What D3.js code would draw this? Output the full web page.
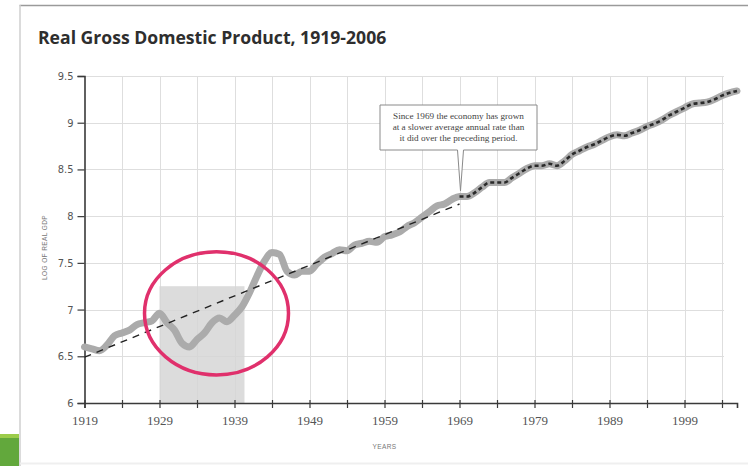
<!DOCTYPE html>
<html>
<head>
<meta charset="utf-8">
<script src="https://cdn.jsdelivr.net/npm/d3@7"></script>
<style>
  html, body { margin: 0; padding: 0; background: #fff; }
  svg { display: block; }
</style>
</head>
<body>
<svg id="chart" width="748" height="466"></svg>
<script>
// Log of real GDP, annual, 1919-2006
const years = d3.range(1919, 2007);
const logGdp = [
  6.60, 6.58, 6.56, 6.62, 6.72, 6.75, 6.78, 6.84, 6.86, 6.88, // 1919-1928
  6.96, 6.86, 6.78, 6.64, 6.60, 6.68, 6.75, 6.86, 6.91, 6.87, // 1929-1938
  6.94, 7.03, 7.18, 7.36, 7.52, 7.61, 7.59, 7.41, 7.37, 7.41, // 1939-1948
  7.41, 7.49, 7.56, 7.60, 7.64, 7.63, 7.69, 7.71, 7.73, 7.72, // 1949-1958
  7.78, 7.80, 7.83, 7.89, 7.93, 7.99, 8.05, 8.11, 8.13, 8.18, // 1959-1968
  8.21, 8.21, 8.25, 8.31, 8.36, 8.36, 8.36, 8.41, 8.46, 8.51, // 1969-1978
  8.54, 8.54, 8.56, 8.54, 8.59, 8.66, 8.70, 8.74, 8.77, 8.81, // 1979-1988
  8.85, 8.87, 8.86, 8.89, 8.92, 8.96, 8.99, 9.03, 9.08, 9.12, // 1989-1998
  9.16, 9.20, 9.21, 9.22, 9.25, 9.29, 9.32, 9.34              // 1999-2006
];

// Pre-1969 trend line endpoints
const trendYears = [1919, 1969];
const trendValues = [6.49, 8.13];

// Axis ticks
const yTicks = [6, 6.5, 7, 7.5, 8, 8.5, 9, 9.5];
const xLabelYears = [1919, 1929, 1939, 1949, 1959, 1969, 1979, 1989, 1999];
const xTickYears = d3.range(1919, 2005, 5);

// Great Depression highlight
const shadeYears = [1929, 1940.33];
const shadeTop = 7.25;
const circleCenter = [1936.6, 6.96];
const circleRadius = [9.6, 0.66];

const titleText = "Real Gross Domestic Product, 1919-2006";
const yAxisTitle = "LOG OF REAL GDP";
const xAxisTitle = "YEARS";
const noteLines = [
  "Since 1969 the economy has grown",
  "at a slower average annual rate than",
  "it did over the preceding period."
];
const breakYear = 1969;

const svg = d3.select("#chart");
const x = d3.scaleLinear().domain([1919, 2006]).range([84.5, 737]);
const y = d3.scaleLinear().domain([6, 9.5]).range([403, 76]);
const gridRight = x(2004);

// Page frame and corner accent
svg.append("rect").attr("x", 0).attr("y", 0).attr("width", 748).attr("height", 466).attr("fill", "#fff");
svg.append("line").attr("x1", 19.5).attr("x2", 748).attr("y1", 5.5).attr("y2", 5.5)
  .attr("stroke", "#9a9a9a").attr("stroke-width", 1.5);
svg.append("line").attr("x1", 20).attr("x2", 20).attr("y1", 5).attr("y2", 466)
  .attr("stroke", "#cfcfcf").attr("stroke-width", 1.5);
svg.append("line").attr("x1", 20).attr("x2", 748).attr("y1", 463.5).attr("y2", 463.5)
  .attr("stroke", "#efefef").attr("stroke-width", 2);
svg.append("rect").attr("x", 0).attr("y", 434).attr("width", 19).attr("height", 32).attr("fill", "#62a83c");
svg.append("rect").attr("x", 0).attr("y", 434).attr("width", 19).attr("height", 4).attr("fill", "#9ccc4a");

// Title
svg.append("text").attr("x", 38).attr("y", 44)
  .attr("font-family", "'Open Sans', 'Noto Sans', sans-serif")
  .attr("font-weight", 700).attr("font-size", 17.6).attr("fill", "#2e2e2e")
  .text(titleText);

// Grid
const grid = svg.append("g").attr("stroke", "#dedede").attr("stroke-width", 1);
grid.selectAll("line.h").data(yTicks.slice(1)).join("line").attr("class", "h")
  .attr("x1", x(1919)).attr("x2", gridRight + 2)
  .attr("y1", d => Math.round(y(d)) + 0.5).attr("y2", d => Math.round(y(d)) + 0.5);
grid.selectAll("line.v").data(xTickYears.slice(1)).join("line").attr("class", "v")
  .attr("x1", d => Math.round(x(d)) + 0.5).attr("x2", d => Math.round(x(d)) + 0.5)
  .attr("y1", y(9.5)).attr("y2", y(6));

// Depression shading
svg.append("rect")
  .attr("x", x(shadeYears[0])).attr("width", x(shadeYears[1]) - x(shadeYears[0]))
  .attr("y", y(shadeTop)).attr("height", y(6) - y(shadeTop))
  .attr("fill", "#d6d6d6").attr("opacity", 0.85);

// Axes
const yAxis = d3.axisLeft(y).tickValues(yTicks).tickSize(7).tickPadding(4)
  .tickFormat(d => d3.format("")(d));
const gy = svg.append("g").attr("transform", `translate(${x(1919)},0)`).call(yAxis);
gy.select(".domain").attr("stroke", "#3a3a3a").attr("stroke-width", 1.6);
gy.selectAll(".tick line").attr("stroke", "#3a3a3a").attr("stroke-width", 1.2);
gy.selectAll(".tick text").attr("font-family", "'Liberation Sans Narrow', 'DejaVu Sans Condensed', 'Liberation Sans', sans-serif")
  .attr("font-size", 11).attr("fill", "#555");

const xAxis = d3.axisBottom(x).tickValues(xTickYears).tickSize(5).tickPadding(8)
  .tickFormat(d => xLabelYears.includes(d) ? String(d) : "");
const gx = svg.append("g").attr("transform", `translate(0,${y(6)})`).call(xAxis);
gx.select(".domain").attr("stroke", "#3a3a3a").attr("stroke-width", 1.6);
gx.selectAll(".tick line").attr("stroke", "#3a3a3a").attr("stroke-width", 1.2).attr("y1", -3);
gx.selectAll(".tick text").attr("font-family", "'Liberation Serif', 'DejaVu Serif', serif")
  .attr("font-size", 13).attr("fill", "#555");

// Axis titles
svg.append("text").attr("transform", `translate(47,${(y(6) + y(9.5)) / 2 + 8}) rotate(-90)`)
  .attr("text-anchor", "middle").attr("font-family", "'Liberation Sans', sans-serif")
  .attr("font-size", 6.5).attr("fill", "#777").attr("letter-spacing", 0.4).text(yAxisTitle);
svg.append("text").attr("x", x(1959)).attr("y", 449).attr("text-anchor", "middle")
  .attr("font-family", "'Liberation Sans', sans-serif")
  .attr("font-size", 6.5).attr("fill", "#777").attr("letter-spacing", 0.4).text(xAxisTitle);

// GDP series
const series = years.map((yr, i) => ({ yr, v: logGdp[i] }));
const line = d3.line().x(d => x(d.yr)).y(d => y(d.v)).curve(d3.curveMonotoneX);
svg.append("path").datum(series).attr("d", line)
  .attr("fill", "none").attr("stroke", "#ababab").attr("stroke-width", 7)
  .attr("stroke-linejoin", "round").attr("stroke-linecap", "round");

// Trend before 1969 (dashed)
svg.append("path").datum(trendYears.map((yr, i) => ({ yr, v: trendValues[i] })))
  .attr("d", d3.line().x(d => x(d.yr)).y(d => y(d.v)))
  .attr("fill", "none").attr("stroke", "#222").attr("stroke-width", 1.4)
  .attr("stroke-dasharray", "7,6");

// Post-1969 path marked with short dark dashes on top of the series
svg.append("path").datum(series.filter(d => d.yr >= breakYear)).attr("d", line)
  .attr("fill", "none").attr("stroke", "#2a2a2a").attr("stroke-width", 2.6)
  .attr("stroke-dasharray", "4,3");

// Callout note
const boxX = 380, boxY = 105, boxW = 157, boxH = 45;
const tipX = x(breakYear) + 1, tipY = y(8.27);
const note = svg.append("g");
note.append("path")
  .attr("d", `M${boxX},${boxY} H${boxX + boxW} V${boxY + boxH} H${tipX + 3} L${tipX},${tipY} L${tipX - 3},${boxY + boxH} H${boxX} Z`)
  .attr("fill", "#fff").attr("stroke", "#8a8a8a").attr("stroke-width", 1);
note.selectAll("text").data(noteLines).join("text")
  .attr("x", boxX + boxW / 2).attr("y", (d, i) => boxY + 14 + i * 11)
  .attr("text-anchor", "middle").attr("font-family", "'Liberation Serif', serif")
  .attr("font-size", 9.2).attr("fill", "#444").text(d => d);

// Depression ring
svg.append("ellipse")
  .attr("cx", x(circleCenter[0])).attr("cy", y(circleCenter[1]))
  .attr("rx", x(circleCenter[0] + circleRadius[0]) - x(circleCenter[0]))
  .attr("ry", y(circleCenter[1]) - y(circleCenter[1] + circleRadius[1]))
  .attr("fill", "none").attr("stroke", "#e0306c").attr("stroke-width", 3.5);
</script>
</body>
</html>
